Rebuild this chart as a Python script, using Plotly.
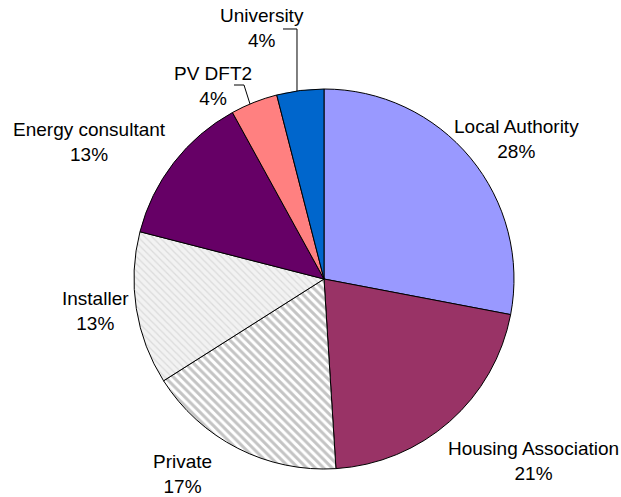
import plotly.graph_objects as go

labels = ["Local Authority", "Housing Association", "Private", "Installer",
          "Energy consultant", "PV DFT2", "University"]
values = [28, 21, 17, 13, 13, 4, 4]
colors = ["#9999FF", "#993366", "#FFFFFF", "#F2F2F2", "#660066", "#FF8080", "#0066CC"]
pattern_shapes = ["", "", "\\", "\\", "", "", ""]
pattern_fg = ["#000", "#000", "#8a8a8a", "#c4c4c4", "#000", "#000", "#000"]
pattern_size = [6, 6, 6, 5, 6, 6, 6]
pattern_solidity = [0.3, 0.3, 0.5, 0.25, 0.3, 0.3, 0.3]

W, H = 621, 497

# label centre positions in pixels (layout only)
label_pos = [(516, 139), (533, 461), (183, 474), (95, 311),
             (89, 142), (213, 86), (262, 28)]

def px(x, y):
    return x / W, 1 - y / H

fig = go.Figure(go.Pie(
    labels=labels, values=values, sort=False, direction="clockwise",
    rotation=0, textinfo="none", hoverinfo="label+percent",
    marker=dict(colors=colors, line=dict(color="black", width=1),
                pattern=dict(shape=pattern_shapes, fgcolor=pattern_fg,
                             bgcolor=colors, size=pattern_size,
                             solidity=pattern_solidity, fillmode="overlay")),
    domain=dict(x=[134 / W, 514 / W], y=[1 - 469 / H, 1 - 89 / H]),
    showlegend=False,
))

annotations = []
for lab, val, (x, y) in zip(labels, values, label_pos):
    ax, ay = px(x, y)
    annotations.append(dict(x=ax, y=ay, xref="paper", yref="paper",
                            text=f"{lab}<br>{val}%", showarrow=False,
                            xanchor="center", yanchor="middle", align="center",
                            font=dict(family="Liberation Sans, Arial", size=19, color="black")))

def path(points):
    s = ""
    for i, (x, y) in enumerate(points):
        a, b = px(x, y)
        s += ("M" if i == 0 else " L") + f" {a:.5f},{b:.5f}"
    return s

shapes = [
    dict(type="path", xref="paper", yref="paper",
         path=path([(283, 29), (297, 29), (297, 91)]),
         line=dict(color="black", width=1)),
    dict(type="path", xref="paper", yref="paper",
         path=path([(234, 85), (244, 85), (250, 104)]),
         line=dict(color="black", width=1)),
]

fig.update_layout(width=W, height=H, margin=dict(l=0, r=0, t=0, b=0),
                  paper_bgcolor="white", plot_bgcolor="white",
                  annotations=annotations, shapes=shapes)
fig.write_html("out.html", config={"displayModeBar": False},
               post_script="document.body.style.margin='0';document.body.style.overflow='hidden';")
